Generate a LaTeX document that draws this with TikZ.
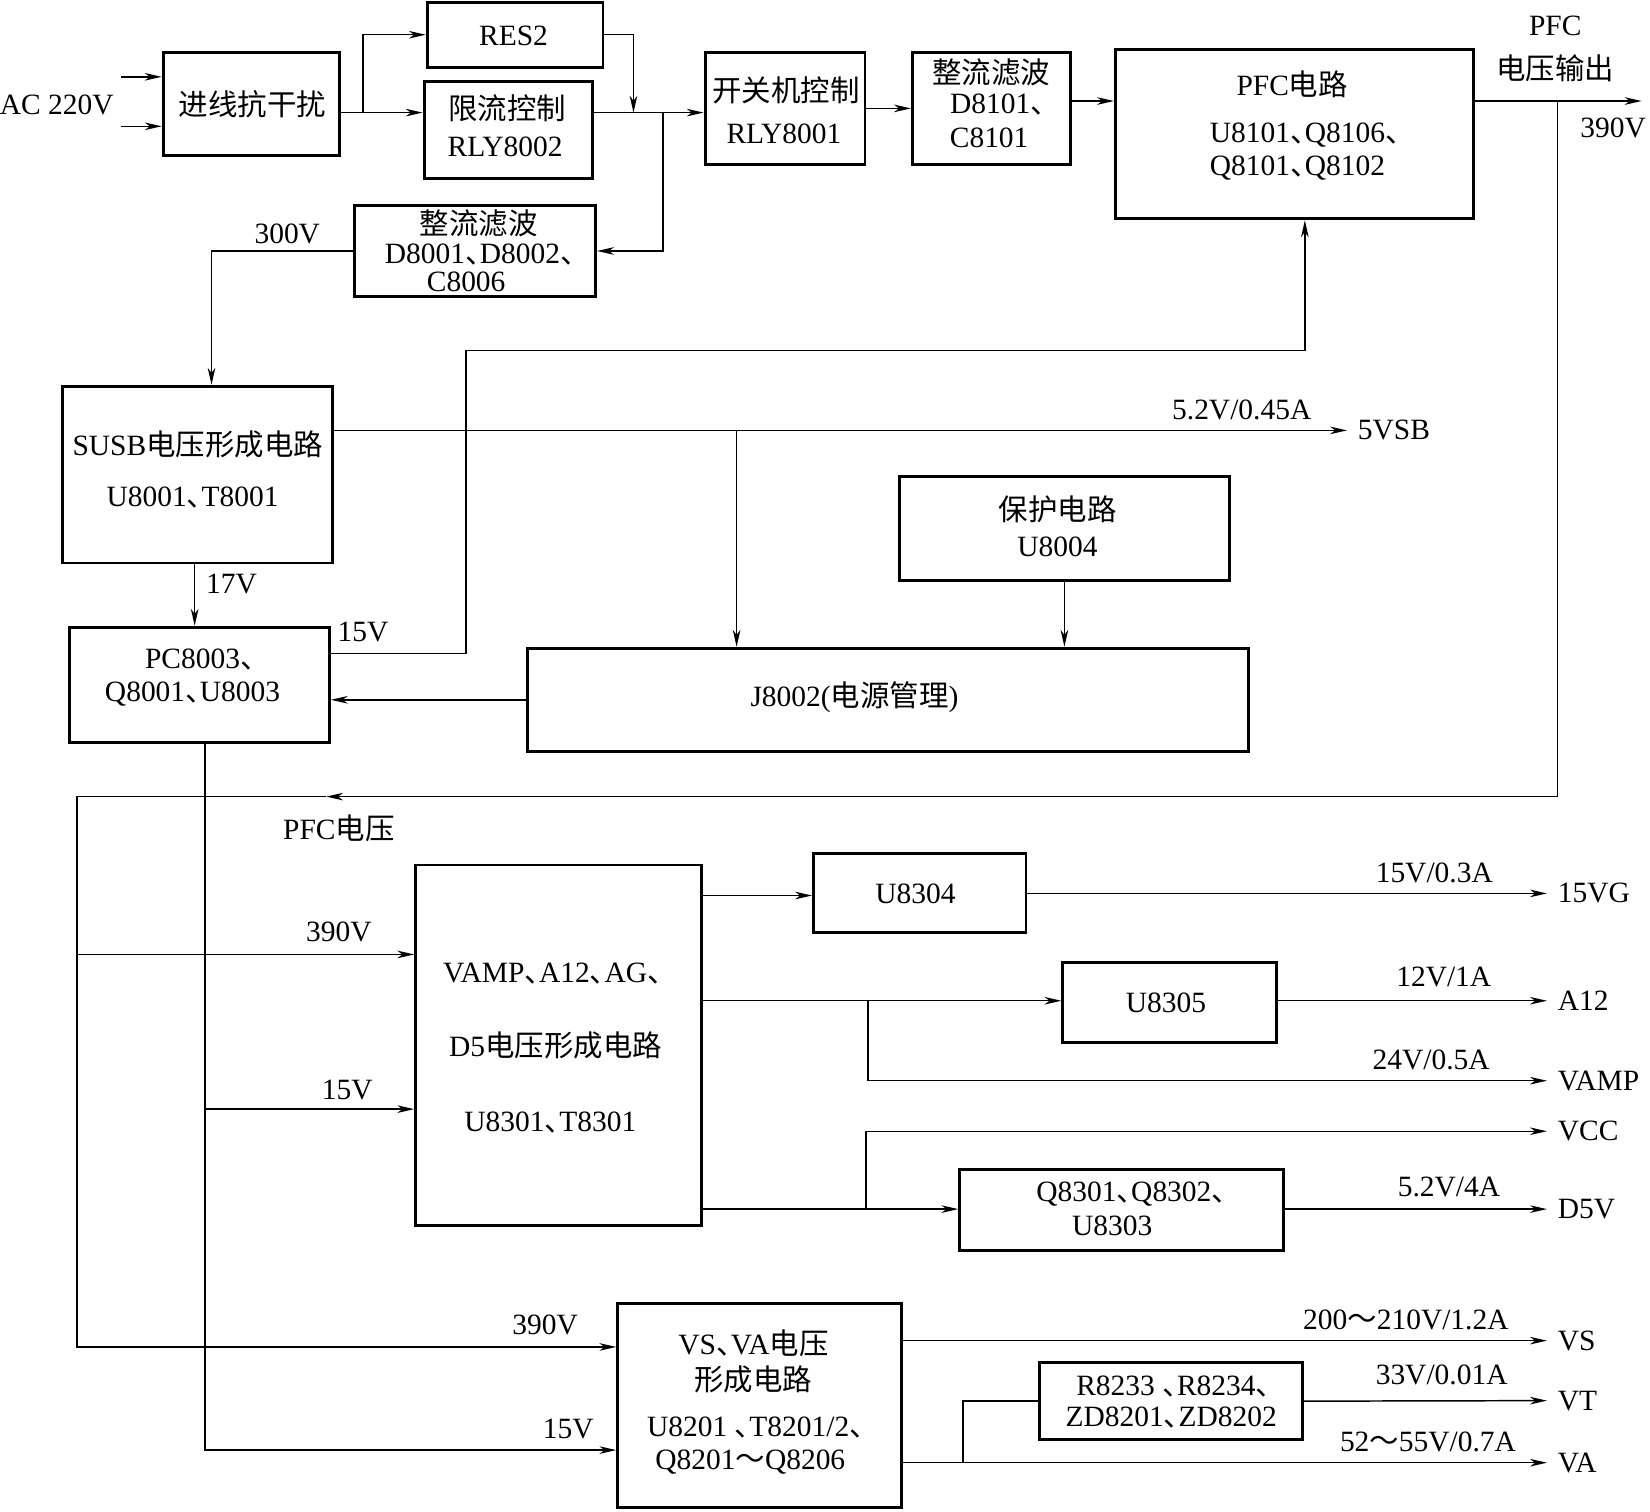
\documentclass[tikz,border=0pt]{standalone}
\usepackage{fontspec}
\setmainfont{Liberation Serif}
\newfontfamily\cjk{Noto Sans CJK SC}
\newcommand\zh[1]{{\cjk #1}}
\newcommand\dun{\makebox[0.5em][l]{\cjk 、}}
\newcommand\zhtilde{{\cjk ～}}
\usetikzlibrary{arrows.meta,fit}

\begin{document}
\begin{tikzpicture}[x=0.5pt,y=-0.5pt,
  every node/.style={font=\fontsize{14}{16}\selectfont, inner sep=0pt},
  blk/.style={draw, line width=1.4pt, inner sep=0pt},
  ln/.style={line width=0.7pt},
  arr/.style={ln, -{Stealth[length=8pt,width=3.6pt,inset=2.4pt]}},
  lbl/.style={anchor=west, inner xsep=5pt, inner ysep=0pt}]
\useasboundingbox (0,0) rectangle (1568,1436);

% ---------- boxes ----------
\node[blk, fit={(155,50)(323,148)}] (inf) {};
\node[blk, fit={(406,2)(573,64)}] (res2) {};
\node[blk, fit={(403,77)(563,170)}] (xl) {};
\node[blk, fit={(670,50)(822,156)}] (kg) {};
\node[blk, fit={(867,50)(1017,156)}] (zl1) {};
\node[blk, fit={(1060,47)(1400,208)}] (pfc) {};
\node[blk, fit={(337,195)(566,282)}] (zl2) {};
\node[blk, fit={(59,367)(316,535)}] (susb) {};
\node[blk, fit={(66,596)(313,706)}] (pc) {};
\node[blk, fit={(855,453)(1168,552)}] (bh) {};
\node[blk, fit={(501,616)(1186,714)}] (jm) {};
\node[blk, fit={(395,822)(667,1165)}] (vamp) {};
\node[blk, fit={(773,811)(975,886)}] (u04) {};
\node[blk, fit={(1010,915)(1213,991)}] (u05) {};
\node[blk, fit={(912,1111)(1220,1188)}] (q83) {};
\node[blk, fit={(587,1239)(857,1433)}] (vs) {};
\node[blk, fit={(988,1295)(1238,1368)}] (rz) {};

% ---------- box texts ----------
\node (tinf) at (240,99) {\zh{进线抗干扰}};
\node (tres2) at (488,34) {RES2};
\node (txl1) at (482,103) {\zh{限流控制}};
\node (txl2) at (480,140) {RLY8002};
\node (tkg1) at (747,86) {\zh{开关机控制}};
\node (tkg2) at (745,127) {RLY8001};
\node (tzl11) at (942,69) {\zh{整流滤波}};
\node (tzl12) at (948,99) {D8101\dun};
\node (tzl13) at (940,131) {C8101};
\node (tpfc1) at (1228,80) {PFC\zh{电路}};
\node (tpfc2) at (1240,128) {U8101\dun Q8106\dun};
\node (tpfc3) at (1233,160) {Q8101\dun Q8102};
\node (tzl21) at (455,212) {\zh{整流滤波}};
\node (tzl22) at (456,242) {D8001\dun D8002\dun};
\node (tzl23) at (443,268) {C8006};
\node (tsusb1) at (188,422) {SUSB\zh{电压形成电路}};
\node (tsusb2) at (183,473) {U8001\dun T8001};
\node (tpc1) at (190,627) {PC8003\dun};
\node (tpc2) at (183,660) {Q8001\dun U8003};
\node (tbh1) at (1005,484) {\zh{保护电路}};
\node (tbh2) at (1005,520) {U8004};
\node (tjm) at (812,663) {J8002(\zh{电源管理})};
\node (tvamp1) at (525,925) {VAMP\dun A12\dun AG\dun};
\node (tvamp2) at (528,993) {D5\zh{电压形成电路}};
\node (tvamp3) at (523,1067) {U8301\dun T8301};
\node (tu04) at (870,849) {U8304};
\node (tu05) at (1108,953) {U8305};
\node (tq1) at (1075,1135) {Q8301\dun Q8302\dun};
\node (tq2) at (1057,1165) {U8303};
\node (tvs1) at (716,1277) {VS\dun VA\zh{电压}};
\node (tvs2) at (716,1311) {\zh{形成电路}};
\node (tvs3) at (718,1357) {U8201 \dun T8201/2\dun};
\node (tvs4) at (713,1389) {Q8201\zhtilde Q8206};
\node (trz1) at (1115,1318) {R8233 \dun R8234\dun};
\node (trz2) at (1113,1347) {ZD8201\dun ZD8202};

% ---------- free labels ----------
\node (lac) at (54,100) {AC 220V};
\node (lpfc1) at (1478,25) {PFC};
\node (lpfc2) at (1478,65) {\zh{电压输出}};
\node (l390a) at (1533,122) {390V};
\node (l300) at (273,222) {300V};
\node (l17) at (220,555) {17V};
\node (l15a) at (345,601) {15V};
\node (l52) at (1180,390) {5.2V/0.45A};
\node (lpfcv) at (322,787) {PFC\zh{电压}};
\node (l390b) at (322,886) {390V};
\node (l15b) at (330,1036) {15V};
\node (l390c) at (518,1259) {390V};
\node (l15c) at (540,1358) {15V};
\node (lo1) at (1363,830) {15V/0.3A};
\node (lo2) at (1372,928) {12V/1A};
\node (lo3) at (1360,1007) {24V/0.5A};
\node (lo5) at (1377,1128) {5.2V/4A};
\node (lo6) at (1336,1254) {200\zhtilde 210V/1.2A};
\node (lo7) at (1370,1307) {33V/0.01A};
\node (lo8) at (1357,1370) {52\zhtilde 55V/0.7A};

% output terminals
\node[lbl] (vsb) at (1280,409) {5VSB};
\node[lbl] (o1) at (1470,849) {15VG};
\node[lbl] (o2) at (1470,951) {A12};
\node[lbl] (o3) at (1470,1027) {VAMP};
\node[lbl] (o4) at (1470,1075) {VCC};
\node[lbl] (o5) at (1470,1149) {D5V};
\node[lbl] (o6) at (1470,1274) {VS};
\node[lbl] (o7) at (1470,1331) {VT};
\node[lbl] (o8) at (1470,1390) {VA};

% ---------- connectors ----------
\coordinate (ac1) at (115,73);
\coordinate (ac2) at (115,120);
\draw[arr] (ac1) -- (inf.west |- ac1);
\draw[arr] (ac2) -- (inf.west |- ac2);
\draw[arr] (inf.east |- 0,107) -- (xl.west |- 0,107);
\coordinate (j1) at (345,107);
\draw[arr] (j1) |- (res2.west);
\coordinate (j2) at (602,107);
\draw[arr] (res2.east) -| (j2);
\draw[arr] (xl.east |- 0,107) -- (kg.west |- 0,107);
\coordinate (j3) at (630,107);
\draw[arr] (j3) |- (zl2.east);
\draw[arr] (kg.east |- 0,103) -- (zl1.west |- 0,103);
\draw[arr] (zl1.east |- 0,96) -- (pfc.west |- 0,96);
\coordinate (pfcout) at (1560,96);
\draw[arr] (pfc.east |- 0,96) -- (pfcout);
\coordinate (j4) at (1480,96);
\coordinate (pv) at (310,757);
\draw[arr] (j4) -- (1480,757) -- (pv);
\draw[arr] (pv) -- (73,757) -- (73,1280) -- (vs.west |- 0,1280);
\coordinate (j5) at (73,907);
\draw[arr] (j5) -- (vamp.west |- j5);
\draw[arr] (zl2.west) -| (201,0 |- susb.north);
\draw[arr] (185,0 |- susb.south) -- (185,0 |- pc.north);
\draw[arr] (pc.east |- 0,621) -- (443,621) -- (443,333) -| (1240,0 |- pfc.south);
\draw[arr] (susb.east |- vsb.west) -- (vsb.west);
\coordinate (j6) at (700,409);
\draw[arr] (j6) -- (j6 |- jm.north);
\draw[arr] (bh.south) -- (bh.south |- jm.north);
\draw[arr] (jm.west |- 0,665) -- (pc.east |- 0,665);
\draw[arr] (195,0 |- pc.south) -- (195,1378) -- (vs.west |- 0,1378);
\coordinate (j8) at (195,1054);
\draw[arr] (j8) -- (vamp.west |- j8);
\draw[arr] (vamp.east |- 0,851) -- (u04.west |- 0,851);
\draw[arr] (u04.east |- o1.west) -- (o1.west);
\draw[arr] (vamp.east |- o2.west) -- (u05.west |- o2.west);
\draw[arr] (u05.east |- o2.west) -- (o2.west);
\coordinate (j9) at (825,951);
\draw[arr] (j9) |- (o3.west);
\draw[arr] (vamp.east |- o5.west) -- (q83.west |- o5.west);
\coordinate (j10) at (823,1149);
\draw[arr] (j10) |- (o4.west);
\draw[arr] (q83.east |- o5.west) -- (o5.west);
\draw[arr] (vs.east |- o6.west) -- (o6.west);
\draw[arr] (vs.east |- o8.west) -- (o8.west);
\coordinate (j11) at (915,1390);
\draw[ln] (j11) |- (rz.west);
\draw[arr] (rz.east) -- (o7.west);
\end{tikzpicture}
\end{document}
